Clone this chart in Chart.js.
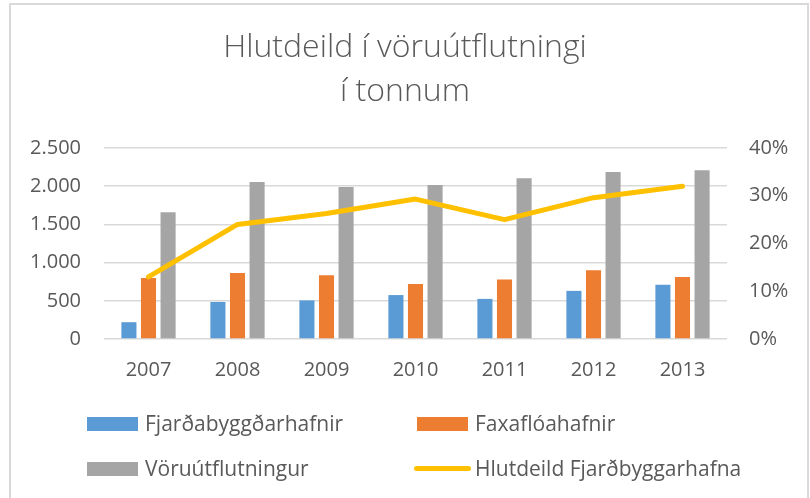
<!DOCTYPE html>
<html>
<head>
<meta charset="utf-8">
<script src="https://cdn.jsdelivr.net/npm/chart.js@4.4.1/dist/chart.umd.min.js"></script>
<style>
  html, body { margin: 0; padding: 0; background: #ffffff; overflow: hidden; }
  #frame { position: absolute; left: 9px; top: 3px; height: 600px; border: 2px solid #d9d9d9; box-sizing: border-box; width: 800px; }
  #wrap { position: absolute; left: 0; top: 0; width: 810px; height: 498px; }
  #legend { position: absolute; left: 0; top: 0; width: 810px; height: 498px; pointer-events: none;
            font-family: "Open Sans", sans-serif; font-size: 21px; color: #595959; }
  .item { position: absolute; white-space: nowrap; }
</style>
</head>
<body>
<div id="frame"></div>
<div id="wrap"><canvas id="c" width="810" height="498"></canvas></div>
<div id="legend"></div>
<script>
const titleLines = ["Hlutdeild í vöruútflutningi", "í tonnum"];
const categories = ["2007", "2008", "2009", "2010", "2011", "2012", "2013"];
const seriesNames = ["Fjarðabyggðarhafnir", "Faxaflóahafnir", "Vöruútflutningur", "Hlutdeild Fjarðbyggarhafna"];
const fjardabyggd = [220, 485, 505, 575, 525, 630, 710];
const faxafloi = [800, 865, 835, 720, 780, 900, 810];
const voruutflutningur = [1660, 2055, 1990, 2015, 2105, 2185, 2210];
const hlutdeild = [13, 24, 26.3, 29.3, 25, 29.6, 32];
const leftTicks = [0, 500, 1000, 1500, 2000, 2500];
const rightTicks = [0, 10, 20, 30, 40];

const TXT = "#595959";
const FONT = "'Open Sans', sans-serif";

function fmtThousands(v) {
  return String(v).replace(/\B(?=(\d{3})+(?!\d))/g, ".");
}

const chart = new Chart(document.getElementById("c"), {
  data: {
    labels: categories,
    datasets: [
      { type: "bar", label: seriesNames[0], data: fjardabyggd, backgroundColor: "#5B9BD5", yAxisID: "y", order: 1 },
      { type: "bar", label: seriesNames[1], data: faxafloi, backgroundColor: "#ED7D31", yAxisID: "y", order: 1 },
      { type: "bar", label: seriesNames[2], data: voruutflutningur, backgroundColor: "#A5A5A5", yAxisID: "y", order: 1 },
      { type: "line", label: seriesNames[3], data: hlutdeild, borderColor: "#FFC000", backgroundColor: "#FFC000",
        borderWidth: 5, pointRadius: 0, borderCapStyle: "round", borderJoinStyle: "round", tension: 0,
        yAxisID: "y1", order: 0 }
    ]
  },
  options: {
    responsive: false,
    animation: false,
    devicePixelRatio: 1,
    layout: { padding: { left: 0, right: 0, top: 0, bottom: 0 } },
    datasets: { bar: { categoryPercentage: 0.66, barPercentage: 0.77 } },
    plugins: {
      legend: { display: false },
      tooltip: { enabled: false },
      title: {
        display: true,
        text: titleLines,
        color: TXT,
        font: { family: FONT, size: 32, weight: 300, lineHeight: 44 / 32 },
        padding: { top: 26, bottom: 34 }
      }
    },
    scales: {
      x: {
        grid: { display: false, drawTicks: false },
        border: { display: false },
        ticks: { color: TXT, font: { family: FONT, size: 20 }, padding: 19, maxRotation: 0 },
        afterFit: s => { s.height = 498 - 339; }
      },
      y: {
        position: "left",
        min: 0, max: 2500,
        afterBuildTicks: s => { s.ticks = leftTicks.map(v => ({ value: v })); },
        grid: { color: "#D9D9D9", lineWidth: 1.5, drawTicks: false },
        border: { display: false },
        ticks: { color: TXT, font: { family: FONT, size: 20 }, padding: 23, callback: v => fmtThousands(v) },
        afterFit: s => { s.width = 104; }
      },
      y1: {
        position: "right",
        min: 0, max: 40,
        afterBuildTicks: s => { s.ticks = rightTicks.map(v => ({ value: v })); },
        grid: { display: false, drawTicks: false },
        border: { display: false },
        ticks: { color: TXT, font: { family: FONT, size: 20 }, padding: 22, callback: v => v + "%" },
        afterFit: s => { s.width = 810 - 727; }
      }
    }
  }
});

// HTML legend built from the chart's datasets, 2 columns x 2 rows
const legendPos = [
  { sx: 87, text: 145, cy: 424 },
  { sx: 417, text: 475, cy: 424 },
  { sx: 87, text: 145, cy: 469 },
  { sx: 417, text: 475, cy: 469 }
];
const legendEl = document.getElementById("legend");
chart.data.datasets.forEach((ds, i) => {
  const p = legendPos[i];
  const sw = document.createElement("div");
  sw.className = "item";
  if (ds.type === "line") {
    sw.style.left = (p.sx - 3) + "px";
    sw.style.top = (p.cy - 3) + "px";
    sw.style.width = "57px";
    sw.style.height = "5px";
    sw.style.borderRadius = "3px";
  } else {
    sw.style.left = p.sx + "px";
    sw.style.top = (p.cy - 7) + "px";
    sw.style.width = "51px";
    sw.style.height = "14px";
  }
  sw.style.background = ds.backgroundColor;
  legendEl.appendChild(sw);
  const tx = document.createElement("div");
  tx.className = "item";
  tx.textContent = ds.label;
  tx.style.left = p.text + "px";
  tx.style.top = (p.cy - 15) + "px";
  tx.style.lineHeight = "28px";
  legendEl.appendChild(tx);
});
</script>
</body>
</html>
